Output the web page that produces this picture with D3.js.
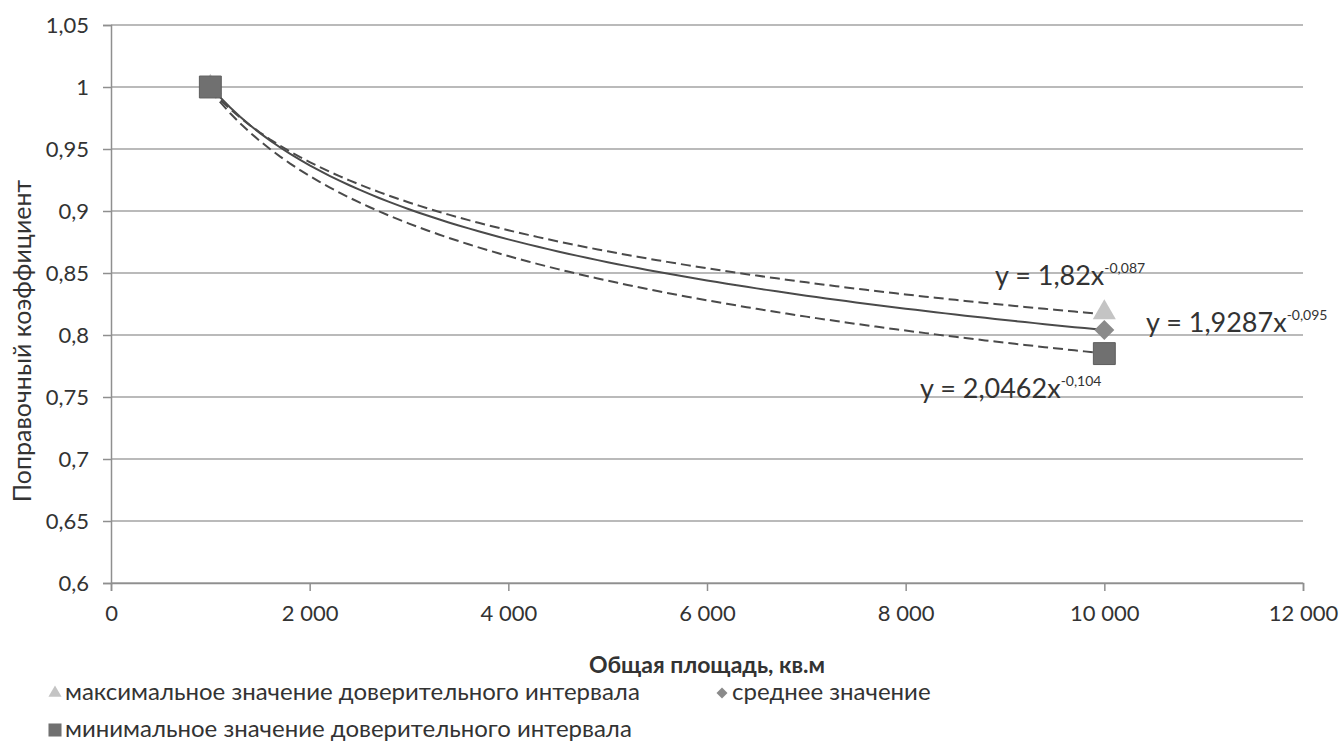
<!DOCTYPE html>
<html>
<head>
<meta charset="utf-8">
<script src="https://cdn.jsdelivr.net/npm/d3@7"></script>
<style>
  body { margin: 0; background: #fff; }
  text { font-family: Lato, "Open Sans", sans-serif; fill: #333; }
</style>
</head>
<body>
<div id="chart"></div>
<script>
// data
var seriesNames = ["максимальное значение доверительного интервала", "среднее значение", "минимальное значение доверительного интервала"];
var xValues = [1000, 10000];
var maxValues = [1, 0.818];
var meanValues = [1, 0.804];
var minValues = [1, 0.785];
// trendline y = a*x^b for each series
var trendA = [1.82, 1.9287, 2.0462];
var trendB = [-0.087, -0.095, -0.104];
var trendLabels = ["y = 1,82x", "y = 1,9287x", "y = 2,0462x"];
var trendPowers = ["-0,087", "-0,095", "-0,104"];
var xTicks = [0, 2000, 4000, 6000, 8000, 10000, 12000];
var yTicks = [0.6, 0.65, 0.7, 0.75, 0.8, 0.85, 0.9, 0.95, 1, 1.05];

var width = 1339, height = 744;
var margin = { top: 25, right: 36, bottom: 161, left: 111 };
var w = width - margin.left - margin.right;
var h = height - margin.top - margin.bottom;

var svg = d3.select("#chart").append("svg")
  .attr("width", width)
  .attr("height", height);

var g = svg.append("g")
  .attr("transform", "translate(" + margin.left + "," + margin.top + ")");

var x = d3.scaleLinear().domain([0, 12000]).range([0, w]);
var y = d3.scaleLinear().domain([0.6, 1.05]).range([h, 0]);

var ru = d3.formatLocale({ decimal: ",", thousands: "\u00a0", grouping: [3], currency: ["", ""] });
var fmtX = ru.format(",d");
var fmtY = function (d) { return String(+d.toFixed(2)).replace(".", ","); };

// gridlines
g.append("g")
  .selectAll("line")
  .data(yTicks)
  .enter().append("line")
  .attr("x1", 0).attr("x2", w)
  .attr("y1", function (d) { return y(d); })
  .attr("y2", function (d) { return y(d); })
  .attr("stroke", "#a3a3a3")
  .attr("stroke-width", 1.5);

// y axis
var yAxis = g.append("g")
  .call(d3.axisLeft(y).tickValues(yTicks).tickFormat(fmtY).tickSize(8).tickPadding(14));
yAxis.select(".domain").attr("stroke", "#8f8f8f").attr("stroke-width", 1.5);
yAxis.selectAll(".tick line").attr("stroke", "#8f8f8f").attr("stroke-width", 1.5);
yAxis.selectAll(".tick text").style("font-size", "22px").attr("fill", "#3a3a3a");

// x axis
var xAxis = g.append("g")
  .attr("transform", "translate(0," + h + ")")
  .call(d3.axisBottom(x).tickValues(xTicks).tickFormat(fmtX).tickSize(8).tickPadding(14));
xAxis.select(".domain").attr("stroke", "#8f8f8f").attr("stroke-width", 1.5);
xAxis.selectAll(".tick line").attr("stroke", "#8f8f8f").attr("stroke-width", 1.5);
xAxis.selectAll(".tick text").style("font-size", "22px").attr("fill", "#3a3a3a");

// axis titles
svg.append("text")
  .attr("x", margin.left + w / 2)
  .attr("y", 673)
  .attr("text-anchor", "middle")
  .style("font-size", "23px")
  .style("font-weight", "bold")
  .text("Общая площадь, кв.м");

svg.append("text")
  .attr("transform", "translate(31,341) rotate(-90)")
  .attr("text-anchor", "middle")
  .style("font-size", "25px")
  .text("Поправочный коэффициент");

// trendlines
var curveX = d3.range(xValues[0], xValues[1] + 1, 100);
var dashes = ["10,5", null, "10,5"];
trendA.forEach(function (a, i) {
  var b = trendB[i];
  var line = d3.line()
    .x(function (d) { return x(d); })
    .y(function (d) { return y(a * Math.pow(d, b)); });
  g.append("path")
    .datum(curveX)
    .attr("d", line)
    .attr("fill", "none")
    .attr("stroke", "#4a4a4a")
    .attr("stroke-width", 2)
    .attr("stroke-dasharray", dashes[i]);
});

// markers
var colors = ["#c4c4c4", "#8a8a8a", "#707070"];
var symbols = [d3.symbolTriangle, d3.symbolSquare, d3.symbolSquare];
var sizes = [230, 200, 480];
var rotations = [0, 45, 0];
[maxValues, meanValues, minValues].forEach(function (vals, i) {
  g.append("g").selectAll("path")
    .data(vals)
    .enter().append("path")
    .attr("transform", function (d, j) {
      return "translate(" + x(xValues[j]) + "," + y(d) + ") rotate(" + rotations[i] + ")";
    })
    .attr("d", d3.symbol().type(symbols[i]).size(sizes[i]))
    .attr("fill", colors[i])
    .attr("stroke", i === 2 ? "#5e5e5e" : "none");
});

// trendline equations
var eqPos = [[995, 285], [1146, 332], [920, 398]];
trendLabels.forEach(function (t, i) {
  var txt = svg.append("text")
    .attr("x", eqPos[i][0])
    .attr("y", eqPos[i][1])
    .style("font-size", "27px")
    .attr("fill", "#333");
  txt.append("tspan").text(t);
  txt.append("tspan").attr("dy", -12).style("font-size", "14px").text(trendPowers[i]);
});

// legend
var legendPos = [[65, 700], [732, 700], [65, 737]];
var legendSizes = [75, 60, 170];
seriesNames.forEach(function (name, i) {
  svg.append("path")
    .attr("transform", "translate(" + (legendPos[i][0] - 10) + "," + (legendPos[i][1] - 7) + ") rotate(" + rotations[i] + ")")
    .attr("d", d3.symbol().type(symbols[i]).size(legendSizes[i]))
    .attr("fill", colors[i]);
  svg.append("text")
    .attr("x", legendPos[i][0])
    .attr("y", legendPos[i][1])
    .style("font-size", "24px")
    .text(name);
});
</script>
</body>
</html>
